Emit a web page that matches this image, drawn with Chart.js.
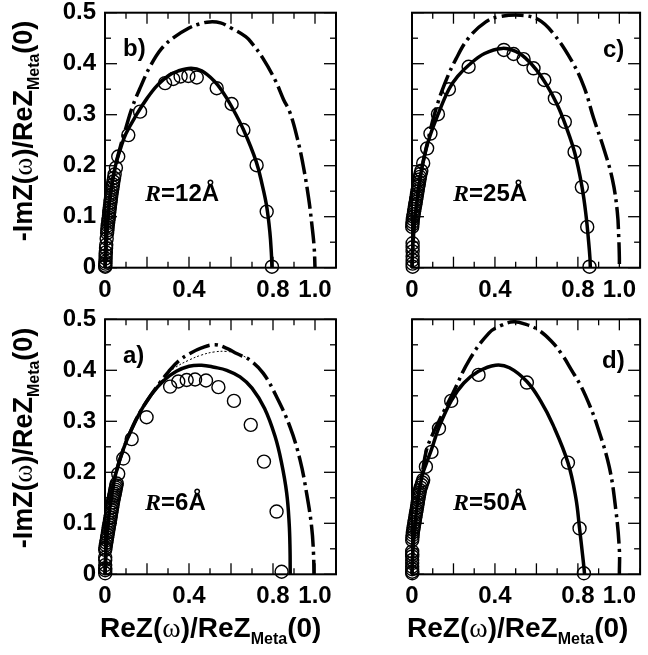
<!DOCTYPE html>
<html>
<head>
<meta charset="utf-8">
<script src="https://cdn.jsdelivr.net/npm/chart.js@4.4.1/dist/chart.umd.min.js"></script>
<style>
  body { margin: 0; background: #fff; }
  #wrap { position: relative; width: 648px; height: 655px; overflow: hidden; }
  canvas { position: absolute; left: 0; top: 0; }
  .txt { position: absolute; white-space: nowrap; line-height: 1; color: #000;
         font-family: "Liberation Sans", Arial, sans-serif; font-weight: bold; }
  .lbl { font-size: 24px; }
  .rr { font-family: "Liberation Serif", "Times New Roman", serif; font-style: italic; }
  .ttl { font-size: 28px; }
  .ytl { font-size: 27px; }
  .om { font-family: "Liberation Serif", "Times New Roman", serif; font-weight: normal; }
  .sub { font-size: 16px; position: relative; top: 7px; }
  .rot { transform: translate(-50%, -50%) rotate(-90deg); }
</style>
</head>
<body>
<div id="wrap">
  <canvas id="cb" width="648" height="655"></canvas>
  <canvas id="cc" width="648" height="655"></canvas>
  <canvas id="ca" width="648" height="655"></canvas>
  <canvas id="cd" width="648" height="655"></canvas>

  <div class="txt lbl" style="left:123px;top:36px">b)</div>
  <div class="txt lbl" style="left:603px;top:37px">c)</div>
  <div class="txt lbl" style="left:123px;top:343px">a)</div>
  <div class="txt lbl" style="left:602px;top:348px">d)</div>

  <div class="txt lbl" style="left:145px;top:181px"><span class="rr">R</span>=12Å</div>
  <div class="txt lbl" style="left:453px;top:181px"><span class="rr">R</span>=25Å</div>
  <div class="txt lbl" style="left:145px;top:490px"><span class="rr">R</span>=6Å</div>
  <div class="txt lbl" style="left:453px;top:490px"><span class="rr">R</span>=50Å</div>

  <div class="txt ytl rot" style="left:23px;top:131px">-ImZ(<span class="om">ω</span>)/ReZ<span class="sub">Meta</span>(0)</div>
  <div class="txt ytl rot" style="left:23px;top:438px">-ImZ(<span class="om">ω</span>)/ReZ<span class="sub">Meta</span>(0)</div>
  <div class="txt ttl" style="left:100px;top:614px">ReZ(<span class="om">ω</span>)/ReZ<span class="sub">Meta</span>(0)</div>
  <div class="txt ttl" style="left:407px;top:614px">ReZ(<span class="om">ω</span>)/ReZ<span class="sub">Meta</span>(0)</div>
</div>

<script>
// ================== Data (x, y) ==================
// tick marks
const xTicks = [0, 0.1, 0.2, 0.3, 0.4, 0.5, 0.6, 0.7, 0.8, 0.9, 1.0, 1.1];
const yTicks = [0, 0.05, 0.1, 0.15, 0.2, 0.25, 0.3, 0.35, 0.4, 0.45, 0.5];
const xLabelled = [0, 0.4, 0.8, 1.0];

// b) R=12Å
const circlesB = [[0.795,0.002],[0.77,0.11],[0.722,0.201],[0.659,0.27],[0.603,0.321],[0.532,0.352],
  [0.437,0.373],[0.397,0.376],[0.36,0.375],[0.325,0.37],[0.286,0.362],[0.167,0.306],[0.111,0.26],
  [0.063,0.218],[0.052,0.196],[0.046,0.183],[0.043,0.176],[0.04,0.169],[0.038,0.163],[0.036,0.158],
  [0.034,0.153],[0.032,0.148],[0.03,0.143],[0.029,0.138],[0.027,0.133],[0.026,0.128],[0.024,0.123],
  [0.023,0.118],[0.021,0.113],[0.02,0.108],[0.019,0.103],[0.018,0.098],[0.016,0.093],[0.015,0.088],
  [0.013,0.083],[0.012,0.078],[0.011,0.073],[0.01,0.068],[0.008,0.057],[0.006,0.045],[0.005,0.038],
  [0.004,0.03],[0.003,0.024],[0.003,0.018],[0.002,0.012],[0.002,0.008],[0.001,0.004],[0.001,0.002]];
const fitB = [[0,0],[0.005,0.04],[0.015,0.1],[0.03,0.155],[0.05,0.2],[0.075,0.235],[0.1,0.263],
  [0.15,0.3],[0.2,0.332],[0.25,0.358],[0.3,0.376],[0.35,0.386],[0.41,0.391],[0.46,0.386],[0.52,0.366],
  [0.56,0.345],[0.6,0.318],[0.66,0.27],[0.72,0.208],[0.75,0.16],[0.77,0.12],[0.785,0.07],[0.792,0.03],[0.795,0]];
const freeB = [[0,0],[0.005,0.04],[0.015,0.1],[0.03,0.155],[0.05,0.2],[0.075,0.24],[0.1,0.275],
  [0.13,0.315],[0.17,0.355],[0.214,0.394],[0.27,0.43],[0.33,0.452],[0.4,0.47],[0.45,0.478],[0.5,0.482],
  [0.55,0.48],[0.6,0.47],[0.67,0.453],[0.7,0.44],[0.75,0.412],[0.81,0.368],[0.85,0.33],[0.88,0.305],
  [0.915,0.255],[0.944,0.2],[0.97,0.135],[0.985,0.085],[0.996,0.04],[1.0,0]];

// c) R=25Å
const circlesC = [[0.856,0.002],[0.845,0.08],[0.819,0.158],[0.784,0.227],[0.737,0.286],[0.689,0.332],
  [0.638,0.368],[0.586,0.391],[0.538,0.409],[0.49,0.419],[0.443,0.427],[0.273,0.394],[0.178,0.35],
  [0.125,0.301],[0.089,0.263],[0.073,0.234],[0.054,0.205],[0.045,0.19],[0.041,0.184],[0.038,0.178],
  [0.036,0.173],[0.034,0.168],[0.032,0.163],[0.03,0.159],[0.028,0.154],[0.026,0.149],[0.024,0.144],
  [0.022,0.139],[0.02,0.134],[0.018,0.129],[0.016,0.124],[0.014,0.12],[0.012,0.115],[0.01,0.11],
  [0.008,0.105],[0.006,0.1],[0.004,0.095],[0.003,0.09],[0.002,0.085],[0.001,0.08],[0.003,0.048],
  [0.003,0.04],[0.003,0.032],[0.003,0.022],[0.003,0.015],[0.003,0.008],[0.003,0.002]];
const fitC = [[0,0],[0.005,0.05],[0.015,0.1],[0.03,0.15],[0.05,0.2],[0.08,0.25],[0.125,0.3],
  [0.178,0.35],[0.22,0.375],[0.273,0.397],[0.35,0.42],[0.435,0.43],[0.5,0.424],[0.55,0.41],[0.6,0.388],
  [0.65,0.358],[0.7,0.32],[0.74,0.28],[0.785,0.225],[0.82,0.158],[0.84,0.1],[0.852,0.05],[0.858,0.02],[0.86,0]];
const freeC = [[0,0],[0.005,0.05],[0.015,0.1],[0.03,0.15],[0.05,0.2],[0.08,0.255],[0.111,0.305],
  [0.157,0.36],[0.213,0.41],[0.276,0.452],[0.356,0.482],[0.42,0.492],[0.524,0.495],[0.611,0.486],
  [0.68,0.46],[0.768,0.407],[0.829,0.355],[0.876,0.293],[0.927,0.231],[0.967,0.172],[0.99,0.11],
  [0.997,0.06],[1.0,0.02],[1.0,0]];

// a) R=6Å
const circlesA = [[0.841,0.005],[0.817,0.123],[0.757,0.221],[0.694,0.293],[0.614,0.34],[0.54,0.367],
  [0.481,0.38],[0.429,0.382],[0.389,0.381],[0.349,0.378],[0.31,0.368],[0.198,0.308],[0.127,0.265],
  [0.087,0.227],[0.063,0.197],[0.056,0.178],[0.054,0.174],[0.052,0.17],[0.05,0.166],[0.048,0.162],
  [0.046,0.158],[0.044,0.154],[0.042,0.15],[0.04,0.146],[0.038,0.141],[0.036,0.136],[0.034,0.131],
  [0.032,0.126],[0.03,0.121],[0.028,0.116],[0.026,0.111],[0.024,0.106],[0.022,0.101],[0.02,0.097],
  [0.018,0.092],[0.016,0.087],[0.014,0.082],[0.012,0.077],[0.01,0.072],[0.008,0.067],[0.006,0.062],
  [0.004,0.057],[0.002,0.052],[0.001,0.048],[0.001,0.033],[0.001,0.028],[0.001,0.018],[0.001,0.012],
  [0.001,0.008],[0.001,0.002]];
const fitA = [[0,0],[0.005,0.05],[0.015,0.1],[0.03,0.15],[0.05,0.195],[0.087,0.245],[0.127,0.285],
  [0.17,0.32],[0.22,0.352],[0.28,0.38],[0.34,0.398],[0.4,0.408],[0.46,0.41],[0.52,0.406],[0.58,0.4],
  [0.643,0.387],[0.7,0.365],[0.76,0.325],[0.81,0.27],[0.84,0.22],[0.865,0.16],[0.877,0.1],[0.881,0.05],[0.882,0]];
const freeA = [[0,0],[0.005,0.05],[0.015,0.1],[0.03,0.15],[0.05,0.195],[0.087,0.245],[0.127,0.285],
  [0.17,0.32],[0.22,0.352],[0.26,0.375],[0.302,0.397],[0.35,0.418],[0.405,0.433],[0.46,0.444],
  [0.524,0.45],[0.58,0.443],[0.627,0.433],[0.69,0.42],[0.754,0.394],[0.817,0.348],[0.881,0.289],
  [0.929,0.224],[0.96,0.159],[0.984,0.093],[0.993,0.04],[0.995,0]];
const dottedA = [[0.22,0.355],[0.28,0.385],[0.333,0.405],[0.4,0.42],[0.46,0.43],[0.52,0.436],
  [0.579,0.437],[0.63,0.433],[0.674,0.425]];

// d) R=50Å
const circlesD = [[0.829,0.002],[0.808,0.09],[0.752,0.219],[0.554,0.376],[0.321,0.391],[0.189,0.34],
  [0.13,0.286],[0.094,0.24],[0.067,0.211],[0.054,0.185],[0.05,0.18],[0.046,0.175],[0.042,0.17],
  [0.038,0.165],[0.036,0.16],[0.034,0.156],[0.032,0.151],[0.03,0.146],[0.028,0.141],[0.026,0.136],
  [0.024,0.131],[0.022,0.126],[0.02,0.122],[0.018,0.117],[0.016,0.112],[0.014,0.107],[0.012,0.102],
  [0.01,0.097],[0.008,0.092],[0.006,0.087],[0.004,0.082],[0.003,0.077],[0.002,0.072],[0.001,0.067],
  [0.001,0.045],[0.001,0.04],[0.001,0.035],[0.001,0.028],[0.001,0.022],[0.001,0.015],[0.001,0.01],
  [0.001,0.005],[0.001,0.002]];
const fitD = [[0,0],[0.005,0.05],[0.015,0.1],[0.03,0.15],[0.05,0.195],[0.067,0.215],[0.094,0.245],
  [0.13,0.288],[0.189,0.34],[0.25,0.375],[0.321,0.398],[0.403,0.41],[0.47,0.405],[0.554,0.378],
  [0.62,0.34],[0.68,0.293],[0.752,0.219],[0.79,0.15],[0.808,0.09],[0.822,0.04],[0.83,0.01],[0.832,0]];
const freeD = [[0,0],[0.005,0.05],[0.015,0.1],[0.03,0.15],[0.05,0.2],[0.07,0.244],[0.1,0.275],
  [0.133,0.303],[0.197,0.355],[0.276,0.42],[0.371,0.473],[0.43,0.488],[0.49,0.495],[0.55,0.49],
  [0.61,0.479],[0.67,0.458],[0.72,0.433],[0.77,0.4],[0.816,0.368],[0.86,0.328],[0.895,0.289],
  [0.951,0.211],[0.983,0.126],[1.0,0.048],[1.0,0]];

// ================== Helpers ==================
const toXY = (pairs) => pairs.map(([x, y]) => ({ x, y }));
const fmtX = (v) => {
  const r = Math.round(v * 10) / 10;
  if (!xLabelled.includes(r)) return "";
  return r === 0 ? "0" : r === 1 ? "1.0" : String(r);
};
const fmtY = (v) => {
  const r = Math.round(v * 100) / 100;
  return r === 0 ? "0" : String(r);
};

// frame + inward ticks on all four sides
const frameTicks = {
  id: "frameTicks",
  afterDatasetsDraw(chart) {
    const { ctx, chartArea: a, scales } = chart;
    const line = (x1, y1, x2, y2) => {
      ctx.beginPath(); ctx.moveTo(x1, y1); ctx.lineTo(x2, y2); ctx.stroke();
    };
    ctx.save();
    ctx.strokeStyle = "#000";
    ctx.lineWidth = 1.3;
    xTicks.forEach((v, i) => {
      const px = scales.x.getPixelForValue(v);
      const len = i % 2 ? 6 : 11;
      line(px, a.bottom, px, a.bottom - len);
      line(px, a.top, px, a.top + len);
    });
    yTicks.forEach((v, i) => {
      const py = scales.y.getPixelForValue(v);
      const len = i % 2 ? 6 : 12;
      line(a.left, py, a.left + len, py);
      line(a.right, py, a.right - len, py);
    });
    ctx.lineWidth = 2;
    ctx.strokeRect(a.left, a.top, a.right - a.left, a.bottom - a.top);
    ctx.restore();
  },
};

const tickFont = { family: "'Liberation Sans', Arial, sans-serif", size: 24, weight: "bold" };

// ================== Panels ==================
function makePanel(id, area, yLabels, circles, fit, free, dotted) {
  const W = yLabels ? 50 : 0;
  const H = 40;
  const datasets = [
    {
      data: toXY(circles), showLine: false, pointStyle: "circle", pointRadius: 6.5,
      pointBorderWidth: 1.4, borderColor: "#000", pointBackgroundColor: "rgba(0,0,0,0)",
      backgroundColor: "rgba(0,0,0,0)", clip: false,
    },
    {
      data: toXY(fit), showLine: true, pointRadius: 0, borderColor: "#000",
      borderWidth: 3.5, tension: 0.4, clip: false,
    },
    {
      data: toXY(free), showLine: true, pointRadius: 0, borderColor: "#000",
      borderWidth: 3.5, borderDash: [22, 5, 3, 5], tension: 0.4, clip: false,
    },
  ];
  if (dotted) {
    datasets.push({
      data: toXY(dotted), showLine: true, pointRadius: 0, borderColor: "#000",
      borderWidth: 1, borderDash: [2, 2], tension: 0.4, clip: false,
    });
  }
  return new Chart(document.getElementById(id), {
    type: "scatter",
    data: { datasets },
    options: {
      responsive: false,
      animation: false,
      events: [],
      layout: {
        padding: { left: area[0] - W, top: area[1], right: 648 - area[2], bottom: 655 - area[3] - H },
      },
      plugins: { legend: { display: false }, tooltip: { enabled: false } },
      scales: {
        x: {
          type: "linear", min: 0, max: 1.1,
          grid: { display: false, drawTicks: false },
          border: { display: false },
          ticks: { stepSize: 0.1, autoSkip: false, maxRotation: 0, padding: 8,
                   color: "#000", font: tickFont, callback: fmtX },
          afterFit: (s) => { s.height = H; s.paddingLeft = 0; s.paddingRight = 0; },
        },
        y: {
          type: "linear", min: 0, max: 0.5,
          grid: { display: false, drawTicks: false },
          border: { display: false },
          ticks: { display: yLabels, stepSize: 0.1, padding: 9, color: "#000",
                   font: tickFont, callback: fmtY },
          afterFit: (s) => { s.width = W; s.paddingTop = 0; s.paddingBottom = 0; },
        },
      },
    },
    plugins: [frameTicks],
  });
}

makePanel("cb", [105, 12.7, 336, 267.7], true, circlesB, fitB, freeB);
makePanel("cc", [412, 12.7, 643, 267.7], false, circlesC, fitC, freeC);
makePanel("ca", [105, 319.3, 336, 574.3], true, circlesA, fitA, freeA, dottedA);
makePanel("cd", [412, 319.3, 643, 574.3], false, circlesD, fitD, freeD);
</script>
</body>
</html>
